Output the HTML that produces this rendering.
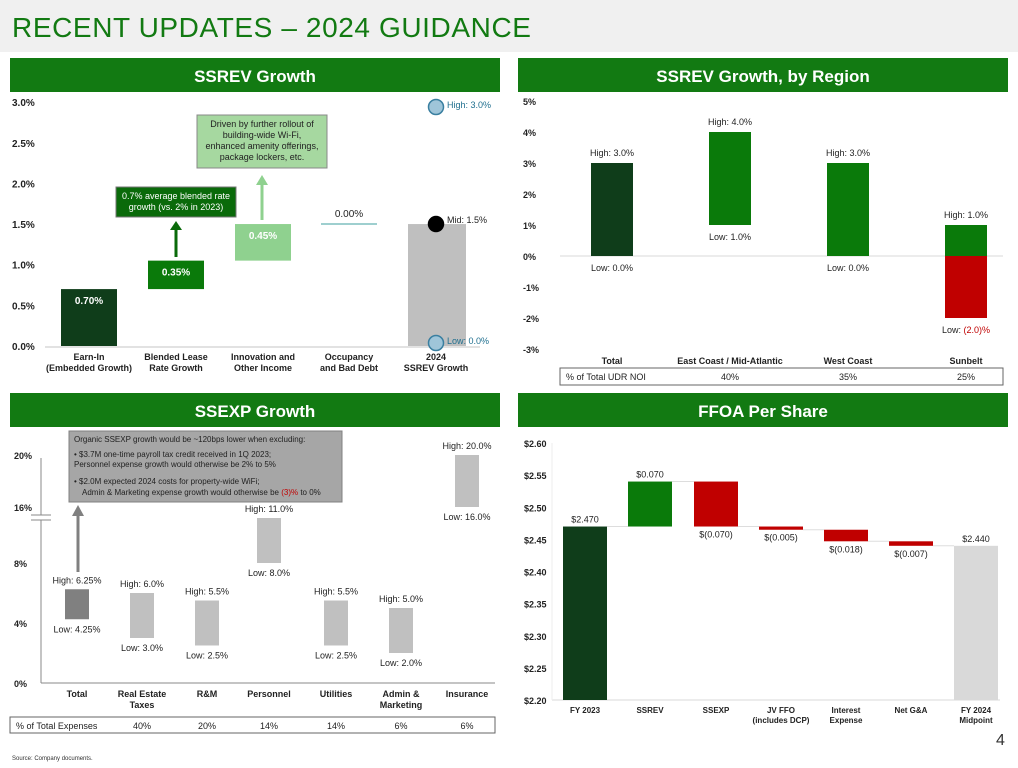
<!DOCTYPE html>
<html><head><meta charset="utf-8"><style>
body{margin:0;width:1018px;height:768px;background:#fff;overflow:hidden;font-family:"Liberation Sans",sans-serif}
svg{position:absolute;left:0;top:0}
</style></head><body>
<svg id="s" width="1018" height="768" xmlns="http://www.w3.org/2000/svg" font-family="Liberation Sans, sans-serif">
<rect x="0" y="0" width="1018" height="52" fill="#f0f0f0"/>
<text x="12" y="37" font-size="28" letter-spacing="0.6" fill="#127a12">RECENT UPDATES – 2024 GUIDANCE</text>
<g font-size="17" font-weight="bold" fill="#fff" text-anchor="middle">
<rect x="10" y="58" width="490" height="34" fill="#127a12"/><text x="255" y="82">SSREV Growth</text>
<rect x="518" y="58" width="490" height="34" fill="#127a12"/><text x="763" y="82">SSREV Growth, by Region</text>
<rect x="10" y="393" width="490" height="34" fill="#127a12"/><text x="255" y="417">SSEXP Growth</text>
<rect x="518" y="393" width="490" height="34" fill="#127a12"/><text x="763" y="417">FFOA Per Share</text>
</g>
<text x="12" y="760" font-size="6" fill="#333">Source: Company documents.</text>
<text x="996" y="745" font-size="16" fill="#333">4</text>
<g id="p1"></g>
<g id="p2"></g>
<g id="p3"></g>
<g id="p4"></g>
</svg>
<script>
// Panel 1 data
const p1Cats=["Earn-In|(Embedded Growth)","Blended Lease|Rate Growth","Innovation and|Other Income","Occupancy|and Bad Debt","2024|SSREV Growth"];
const p1Vals=[0.70,0.35,0.45,0.00];
const p1Labels=["0.70%","0.35%","0.45%","0.00%"];
const p1Ticks=[0,0.5,1.0,1.5,2.0,2.5,3.0];
const p1Range=[0.0,1.5,3.0];
// Panel 2 data
const p2Cats=["Total","East Coast / Mid-Atlantic","West Coast","Sunbelt"];
const p2High=[3,4,3,1];
const p2Low=[0,1,0,-2];
const p2Noi=["","40%","35%","25%"];
const p2Ticks=[5,4,3,2,1,0,-1,-2,-3];
// Panel 3 data
const p3Cats=["Total","Real Estate|Taxes","R&M","Personnel","Utilities","Admin &|Marketing","Insurance"];
const p3High=[6.25,6.0,5.5,11.0,5.5,5.0,20.0];
const p3Low=[4.25,3.0,2.5,8.0,2.5,2.0,16.0];
const p3Exp=["40%","20%","14%","14%","6%","6%"];
const p3Ticks=[0,4,8,16,20];
// Panel 4 data
const p4Cats=["FY 2023","SSREV","SSEXP","JV FFO|(includes DCP)","Interest|Expense","Net G&A","FY 2024|Midpoint"];
const p4Start=2.470;
const p4Deltas=[0.070,-0.070,-0.005,-0.018,-0.007];
const p4End=2.440;
const p4Ticks=[2.20,2.25,2.30,2.35,2.40,2.45,2.50,2.55,2.60];

const NS="http://www.w3.org/2000/svg";
function el(p,t,a,txt){const e=document.createElementNS(NS,t);for(const k in a)e.setAttribute(k,a[k]);if(txt!==undefined)e.textContent=txt;p.appendChild(e);return e;}
function lines(p,x,y,s,fs,extra){s.split("|").forEach((l,i)=>{const t=el(p,"text",Object.assign({x:x,y:y+i*(fs+2),"font-size":fs,"text-anchor":"middle",fill:"#222"},extra||{}),l);

});}

// ---- Panel 1
(function(){const g=document.getElementById("p1");const y=v=>346-v*81.3;
p1Ticks.forEach(v=>{const t=el(g,"text",{x:12,y:y(v)+4,"font-size":10,"font-weight":"bold",fill:"#222"},v.toFixed(1)+"%");});
el(g,"line",{x1:45,x2:480,y1:347,y2:347,stroke:"#d9d9d9","stroke-width":1.5});
const cx=[89,176,263,349,436],cols=["#0f3d1a","#0a7a0a","#8fd18f"];let base=0;
p1Vals.forEach((v,i)=>{if(i<3){const r=el(g,"rect",{x:cx[i]-28,y:y(base+v),width:56,height:y(base)-y(base+v),fill:cols[i]});
el(g,"text",{x:cx[i],y:y(base+v)+15,"font-size":10,"font-weight":"bold",fill:"#fff","text-anchor":"middle"},p1Labels[i]);}
else{const l=el(g,"line",{x1:cx[i]-28,x2:cx[i]+28,y1:y(base),y2:y(base),stroke:"#7fbfbf","stroke-width":1.5});
el(g,"text",{x:cx[i],y:y(base)-7,"font-size":10,fill:"#222","text-anchor":"middle"},p1Labels[i]);}
base+=v;});
const tb=el(g,"rect",{x:408,y:y(p1Range[1]),width:58,height:346-y(p1Range[1]),fill:"#bfbfbf"});
const pts=[["High: ",p1Range[2],"#9fc5d9","#1f6f8f"],["Mid: ",p1Range[1],"#000","#222"],["Low: ",p1Range[0],"#9fc5d9","#1f6f8f"]];
pts.forEach((p,i)=>{const yy=Math.max(Math.min(y(p[1]),343),107);const c=el(g,"circle",{cx:436,cy:yy,r:7.5,fill:p[2],stroke:i==1?"#000":"#3a7fa0","stroke-width":1.5});
el(g,"text",{x:447,y:yy+(i==1?-1:1),"font-size":9,fill:p[3]},p[0]+p[1].toFixed(1)+"%");});
p1Cats.forEach((c,i)=>lines(g,cx[i],360,c,9,{"font-weight":"bold"}));
el(g,"rect",{x:116,y:187,width:120,height:30,fill:"#0a6a0a",stroke:"#777"});
lines(g,176,199,"0.7% average blended rate|growth (vs. 2% in 2023)",9,{fill:"#fff"});
el(g,"line",{x1:176,x2:176,y1:257,y2:230,stroke:"#0a6a0a","stroke-width":3});el(g,"polygon",{points:"170,230 182,230 176,221",fill:"#0a6a0a"});
el(g,"rect",{x:197,y:115,width:130,height:53,fill:"#a6d8a0",stroke:"#888"});
lines(g,262,127,"Driven by further rollout of|building-wide Wi-Fi,|enhanced amenity offerings,|package lockers, etc.",9,{});
el(g,"line",{x1:262,x2:262,y1:220,y2:184,stroke:"#8fd18f","stroke-width":3});el(g,"polygon",{points:"256,185 268,185 262,175",fill:"#8fd18f"});
})();

// ---- Panel 2
(function(){const g=document.getElementById("p2");const y=v=>256-v*31;
p2Ticks.forEach(v=>{const t=el(g,"text",{x:523,y:y(v)+4,"font-size":9,"font-weight":"bold",fill:"#222"},v+"%");});
el(g,"line",{x1:560,x2:1003,y1:256,y2:256,stroke:"#d9d9d9"});
const cx=[612,730,848,966];
p2Cats.forEach((c,i)=>{const hi=p2High[i],lo=p2Low[i];
const segs=lo<0?[[0,hi,"#0a7a0a"],[lo,0,"#c00000"]]:[[lo,hi,i==0?"#0f3d1a":"#0a7a0a"]];
segs.forEach(s=>{const r=el(g,"rect",{x:cx[i]-21,y:y(s[1]),width:42,height:y(s[0])-y(s[1]),fill:s[2]});});
el(g,"text",{x:cx[i],y:y(hi)-7,"font-size":9,fill:"#222","text-anchor":"middle"},"High: "+hi.toFixed(1)+"%");
const lt=el(g,"text",{x:cx[i],y:y(lo)+15,"font-size":9,fill:"#222","text-anchor":"middle"},"Low: ");
el(lt,"tspan",lo<0?{fill:"#c00000"}:{},lo<0?"("+Math.abs(lo).toFixed(1)+")%":lo.toFixed(1)+"%");
el(g,"text",{x:cx[i],y:364,"font-size":9,"font-weight":"bold",fill:"#222","text-anchor":"middle"},c);});
el(g,"rect",{x:560,y:368,width:443,height:17,fill:"none",stroke:"#666"});
el(g,"text",{x:566,y:380,"font-size":9,fill:"#222"},"% of Total UDR NOI");
p2Noi.forEach((v,i)=>{if(v)el(g,"text",{x:cx[i],y:380,"font-size":9,fill:"#222","text-anchor":"middle"},v);});
})();

// ---- Panel 3
(function(){const g=document.getElementById("p3");const y=v=>v>=14?507-13*(v-16):683-15*v;
p3Ticks.forEach(v=>{const t=el(g,"text",{x:14,y:y(v)+4,"font-size":9,"font-weight":"bold",fill:"#222"},v+"%");});
el(g,"line",{x1:41,x2:41,y1:458,y2:683,stroke:"#888"});el(g,"line",{x1:41,x2:495,y1:683,y2:683,stroke:"#888"});
el(g,"rect",{x:31,y:515,width:20,height:5,fill:"#fff"});el(g,"line",{x1:31,x2:51,y1:515,y2:515,stroke:"#888"});el(g,"line",{x1:31,x2:51,y1:520,y2:520,stroke:"#888"});
const cx=[77,142,207,269,336,401,467];
p3Cats.forEach((c,i)=>{const r=el(g,"rect",{x:cx[i]-12,y:y(p3High[i]),width:24,height:y(p3Low[i])-y(p3High[i]),fill:i==0?"#808080":"#c0c0c0"});
const fmt=v=>(v%0.5?v.toFixed(2):v.toFixed(1))+"%";
el(g,"text",{x:cx[i],y:y(p3High[i])-6,"font-size":9,fill:"#222","text-anchor":"middle"},"High: "+fmt(p3High[i]));
el(g,"text",{x:cx[i],y:y(p3Low[i])+13,"font-size":9,fill:"#222","text-anchor":"middle"},"Low: "+fmt(p3Low[i]));
lines(g,cx[i],697,c,9,{"font-weight":"bold"});});
el(g,"rect",{x:10,y:717,width:485,height:16,fill:"none",stroke:"#666"});
el(g,"text",{x:16,y:729,"font-size":9,fill:"#222"},"% of Total Expenses");
p3Exp.forEach((v,i)=>el(g,"text",{x:cx[i+1],y:729,"font-size":9,fill:"#222","text-anchor":"middle"},v));
el(g,"rect",{x:69,y:431,width:273,height:71,fill:"#a6a6a6",stroke:"#808080"});
[["Organic SSEXP growth would be ~120bps lower when excluding:",74,442],["•  $3.7M one-time payroll tax credit received in 1Q 2023;",74,457],["    Personnel expense growth would otherwise be 2% to 5%",74,467],["•  $2.0M expected 2024 costs for property-wide WiFi;",74,484]].forEach(t=>el(g,"text",{x:t[1],y:t[2],"font-size":8,fill:"#222"},t[0]));
const lt=el(g,"text",{x:82,y:495,"font-size":8,fill:"#222"},"Admin & Marketing expense growth would otherwise be ");el(lt,"tspan",{fill:"#c00000"},"(3)%");el(lt,"tspan",{}," to 0%");
el(g,"line",{x1:78,x2:78,y1:572,y2:515,stroke:"#808080","stroke-width":3});el(g,"polygon",{points:"72,516 84,516 78,505",fill:"#808080"});
})();

// ---- Panel 4
(function(){const g=document.getElementById("p4");const y=v=>700-(v-2.20)*642.5;
p4Ticks.forEach(v=>{const t=el(g,"text",{x:524,y:y(v)+4,"font-size":9,"font-weight":"bold",fill:"#222"},"$"+v.toFixed(2));});
el(g,"line",{x1:552,x2:1000,y1:700,y2:700,stroke:"#d9d9d9"});el(g,"line",{x1:552,x2:552,y1:443,y2:700,stroke:"#eee"});
const cx=[585,650,716,781,846,911,976],w=44;
const b0=el(g,"rect",{x:cx[0]-22,y:y(p4Start),width:w,height:700-y(p4Start),fill:"#0f3d1a"});
el(g,"text",{x:cx[0],y:y(p4Start)-4,"font-size":9,fill:"#222","text-anchor":"middle"},"$"+p4Start.toFixed(3));
let cur=p4Start;
p4Deltas.forEach((d,i)=>{const n=cur+d,top=Math.max(cur,n),bot=Math.min(cur,n);
el(g,"line",{x1:cx[i]+22,x2:cx[i+1]-22,y1:y(cur),y2:y(cur),stroke:"#ddd"});
const r=el(g,"rect",{x:cx[i+1]-22,y:y(top),width:w,height:Math.max(y(bot)-y(top),2),fill:d>0?"#0a7a0a":"#c00000"});
el(g,"text",{x:cx[i+1],y:d>0?y(top)-4:y(bot)+11,"font-size":9,fill:"#222","text-anchor":"middle"},d>0?"$"+d.toFixed(3):"$("+Math.abs(d).toFixed(3)+")");cur=n;});
el(g,"line",{x1:cx[5]+22,x2:cx[6]-22,y1:y(cur),y2:y(cur),stroke:"#ddd"});
const be=el(g,"rect",{x:cx[6]-22,y:y(p4End),width:w,height:700-y(p4End),fill:"#d9d9d9"});
el(g,"text",{x:cx[6],y:y(p4End)-4,"font-size":9,fill:"#222","text-anchor":"middle"},"$"+p4End.toFixed(3));
p4Cats.forEach((c,i)=>lines(g,cx[i],713,c,8,{"font-weight":"bold"}));
})();
</script>
</body></html>
